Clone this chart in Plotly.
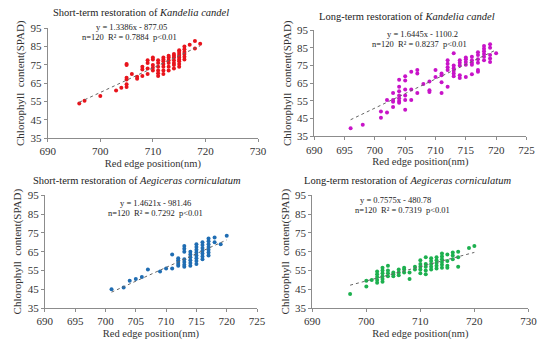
import plotly.graph_objects as go

# ---------------- data ----------------
titles = [
    "Short-term restoration of <i>Kandelia candel</i>",
    "Long-term restoration of <i>Kandelia candel</i>",
    "Short-term restoration of <i>Aegiceras corniculatum</i>",
    "Long-term restoration of <i>Aegiceras corniculatum</i>",
]
eq_text = [
    "y = 1.3386x - 877.05",
    "y = 1.6445x - 1100.2",
    "y = 1.4621x - 981.46",
    "y = 0.7575x - 480.78",
]
stat_text = [
    "n=120  R² = 0.7884  p<0.01",
    "n=120  R² = 0.8237  p<0.01",
    "n=120  R² = 0.7292  p<0.01",
    "n=120  R² = 0.7319  p<0.01",
]
slopes = [1.3386, 1.6445, 1.4621, 0.7575]
intercepts = [-877.05, -1100.2, -981.46, -480.78]

kc_short_x = [696, 697, 700, 703, 704, 705, 705, 705, 705, 705, 705, 706, 707, 707, 708, 708, 708, 709, 709, 709, 709,
              710, 710, 710, 710, 710, 711, 711, 711, 711, 711, 711, 712, 712, 712, 712, 712, 712, 712,
              713, 713, 713, 713, 713, 713, 714, 714, 714, 714, 714, 714, 714,
              715, 715, 715, 715, 715, 715, 715, 715, 715, 716, 716, 716, 716, 716, 716, 717, 718, 718, 719]
kc_short_y = [54, 55.5, 58, 61, 62.5, 63, 64.5, 67, 68, 75, 75.5, 70, 67.5, 68.5, 69, 72.5, 74, 70, 73, 76, 77.5,
              72, 73.5, 75, 78, 79, 69, 70.5, 72, 74, 76, 77.5, 70, 72, 74, 75.5, 77, 78, 79,
              72, 74, 76, 77.5, 79, 80, 73, 75, 76, 77.5, 79, 80, 81,
              74, 75.5, 77, 78, 79, 80, 81, 82, 83, 78, 79.5, 81, 82, 83.5, 85, 86, 84, 88, 86.5]

kc_long_x = [696, 698, 701, 701, 702, 702, 703, 703, 703, 703, 704, 704, 704, 704, 704, 704, 704,
             705, 705, 705, 705, 705, 705, 706, 706, 706, 707, 707, 707, 708, 709, 709, 709, 710, 710,
             711, 711, 711, 711, 712, 712, 712, 712, 712, 713, 713, 713, 713, 713, 713,
             714, 714, 714, 714, 714, 715, 715, 715, 715, 715, 716, 716, 716, 716, 716,
             717, 717, 717, 717, 717, 717, 718, 718, 718, 718, 718, 718, 719, 719, 719, 719, 719, 720]
kc_long_y = [39.5, 41.5, 45.5, 49, 48.5, 55.5, 51.5, 54.5, 55.5, 59.5, 54, 55, 56.5, 58, 60.5, 63, 67,
             50, 55.5, 58, 61.5, 66.5, 69, 55.5, 61.5, 71.5, 59.5, 70.5, 72.5, 64.5, 60, 61, 66, 68.5, 72.5,
             59.5, 65.5, 69.5, 70.5, 63, 72.5, 74, 76, 78, 69, 70.5, 72, 73.5, 75, 82,
             68, 69.5, 75, 76.5, 78, 68.5, 75.5, 77, 78.5, 79.5, 70, 75.5, 76.5, 78, 80,
             71.5, 72.5, 76.5, 78.5, 81, 82.5, 78, 80, 81.5, 83, 84.5, 86, 77, 79, 81, 85, 87, 82]

ac_short_x = [701, 703, 704, 705, 706, 707, 709, 710, 711, 711, 712, 712, 712, 712, 712,
              713, 713, 713, 713, 713, 713, 713, 714, 714, 714, 714, 714, 714,
              715, 715, 715, 715, 715, 715, 715, 715, 716, 716, 716, 716, 716, 716, 716,
              717, 717, 717, 717, 717, 717, 717, 718, 718, 719, 720]
ac_short_y = [45, 46, 49.5, 50.5, 51.5, 55.5, 54.5, 56, 56, 63.5, 57.5, 58.5, 59.5, 60.5, 61.5,
              57, 58, 59.5, 61, 65, 66.5, 68, 57.5, 59, 60.5, 62, 63.5, 65,
              58.5, 60, 61.5, 63, 64.5, 66, 67.5, 69, 61, 62.5, 64, 65.5, 67, 68.5, 70,
              63, 64.5, 66, 67.5, 69, 70.5, 72, 70, 72.5, 69, 73.5]

ac_long_x = [697, 700, 700, 701, 702, 702, 702, 702, 702, 703, 703, 703, 703, 703, 703,
             704, 704, 704, 704, 705, 705, 705, 706, 706, 706, 707, 707, 707, 708, 708, 709, 709,
             710, 710, 710, 710, 710, 711, 711, 711, 711, 711, 712, 712, 712, 712, 712,
             713, 713, 713, 713, 713, 714, 714, 714, 714, 714, 714, 715, 715, 715, 715,
             716, 716, 716, 717, 717, 717, 719, 720]
ac_long_y = [42.5, 46.5, 49.5, 50, 48.5, 50, 51.5, 53, 54.5, 49, 50.5, 52, 53.5, 55, 56.5,
             52, 53.5, 55, 57.5, 52, 53, 54, 52.5, 54, 55.5, 54, 55.5, 56.5, 50.5, 54, 55.5, 57,
             53.5, 55.5, 57, 58.5, 60.5, 53, 55, 57, 58.5, 62, 55.5, 57, 58.5, 60, 61.5,
             56, 57.5, 59, 60.5, 62, 56.5, 58, 59.5, 61, 62.5, 64, 56.5, 57.5, 60, 63.5,
             61, 63, 64.5, 57, 62, 65, 67, 68]

series_x = [kc_short_x, kc_long_x, ac_short_x, ac_long_x]
series_y = [kc_short_y, kc_long_y, ac_short_y, ac_long_y]
colors = ["#e8141c", "#c814c8", "#1f6db3", "#1db04f"]

x_ranges = [[690, 730], [690, 725], [690, 725], [690, 730]]
x_dticks = [10, 5, 5, 10]
y_range = [35, 95]
y_tickvals = [35, 45, 55, 65, 75, 85, 95]

# ---------------- layout ----------------
W, H = 550, 346
def px_x(p): return p / W
def px_y(p): return 1 - p / H

# panel boxes in pixels: (left, right, top, bottom)
boxes = [(41, 258, 23, 137), (316, 535, 25, 135), (38, 257, 196, 313), (314, 537, 196, 313)]
title_pos = [(137, 7), (412, 11), (133, 181), (412, 181)]
eq_pos = [((127, 22), (125, 32)), ((428, 29), (425, 39)), ((152, 204), (152, 214)), ((400, 201), (407, 211))]

FONT = "Liberation Serif, Times New Roman, serif"
fig = go.Figure()
annotations = []
for i in range(4):
    ax = "" if i == 0 else str(i + 1)
    xa, ya = "x" + ax, "y" + ax
    fig.add_trace(go.Scatter(
        x=series_x[i], y=series_y[i], mode="markers", xaxis=xa, yaxis=ya,
        marker=dict(color=colors[i], size=4, symbol="circle"), showlegend=False))
    x0, x1 = min(series_x[i]), max(series_x[i])
    fig.add_trace(go.Scatter(
        x=[x0, x1], y=[slopes[i] * x0 + intercepts[i], slopes[i] * x1 + intercepts[i]],
        mode="lines", xaxis=xa, yaxis=ya,
        line=dict(color="#666666", width=1, dash="dot"), showlegend=False))
    l, r, t, b = boxes[i]
    axis_common = dict(showgrid=False, zeroline=False, showline=True, linecolor="#8c8c8c",
                       linewidth=1, ticks="outside", ticklen=3, tickcolor="#8c8c8c",
                       tickfont=dict(family=FONT, size=11, color="#333333"))
    fig.update_layout(**{
        "xaxis" + ax: dict(domain=[px_x(l), px_x(r)], range=x_ranges[i], dtick=x_dticks[i],
                           tick0=690, anchor=ya,
                           title=dict(text="Red edge position(nm)", standoff=3,
                                      font=dict(family=FONT, size=10.5, color="#333333")),
                           **axis_common),
        "yaxis" + ax: dict(domain=[px_y(b), px_y(t)], range=y_range, tickvals=y_tickvals, anchor=xa,
                           title=dict(text="Chlorophyll  content(SPAD)", standoff=3,
                                      font=dict(family=FONT, size=11, color="#333333")),
                           **axis_common),
    })
    tx, ty = title_pos[i]
    annotations.append(dict(text=titles[i], x=px_x(tx), y=px_y(ty), xref="paper", yref="paper",
                            showarrow=False, xanchor="center", yanchor="middle",
                            font=dict(family=FONT, size=10.5, color="#222222")))
    (e1x, e1y), (e2x, e2y) = eq_pos[i]
    annotations.append(dict(text=eq_text[i], x=px_x(e1x), y=px_y(e1y), xref="paper", yref="paper",
                            showarrow=False, xanchor="center", yanchor="middle",
                            font=dict(family=FONT, size=8.5, color="#222222")))
    annotations.append(dict(text=stat_text[i], x=px_x(e2x), y=px_y(e2y), xref="paper", yref="paper",
                            showarrow=False, xanchor="center", yanchor="middle",
                            font=dict(family=FONT, size=8.5, color="#222222")))

fig.update_layout(width=W, height=H, margin=dict(l=0, r=0, t=0, b=0),
                  paper_bgcolor="white", plot_bgcolor="white", annotations=annotations,
                  font=dict(family=FONT))
fig.write_html("out.html", config={"displayModeBar": False},
               post_script="document.body.style.margin='0';document.body.style.overflow='hidden';")
